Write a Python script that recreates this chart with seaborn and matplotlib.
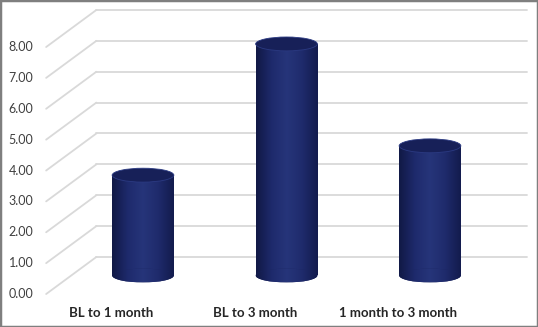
import matplotlib
matplotlib.use("Agg")
import matplotlib.pyplot as plt
from matplotlib.patches import Ellipse, Rectangle
from matplotlib.colors import LinearSegmentedColormap
import numpy as np
import seaborn as sns

# --- data
categories = ["BL to 1 month", "BL to 3 month", "1 month to 3 month"]
values = [3.25, 7.5, 4.2]
yticks = [0, 1, 2, 3, 4, 5, 6, 7, 8]

sns.set_theme(style="white")
plt.rcParams["font.family"] = ["Lato", "DejaVu Sans"]

W, H = 538, 327
fig = plt.figure(figsize=(W / 100, H / 100), dpi=100)
fig.patch.set_facecolor("white")

# axes for the cylinders (mid depth of the fake 3d box), y from -0.5 to 8
ppu = 30.875
ax = fig.add_axes([71.25 / W, (H - 275.5 - 0.5 * ppu) / H, 430.5 / W,
                   8.5 * ppu / H])
ax.set_axis_off()

# depth of the 3d box in data units (half depth each way)
depth_x = 0.175
depth_y = 0.6
grid_col = "#d9d9d9"

sns.barplot(x=categories, y=values, color="#1c2763", width=0.43,
            saturation=1, linewidth=0, edgecolor="none", ax=ax, zorder=3)

# back wall + left wall gridlines, front labels
for v in yticks:
    ax.plot([-0.5 + depth_x, 2.5 + depth_x], [v + depth_y, v + depth_y],
            color=grid_col, lw=1.3, clip_on=False, zorder=1)
    ax.plot([-0.5 - depth_x, -0.5 + depth_x], [v - depth_y, v + depth_y],
            color=grid_col, lw=1.3, clip_on=False, zorder=1)
    ax.text(-0.5 - depth_x - 0.09, v - depth_y, f"{v:.2f}", ha="right",
            va="center", fontsize=9, color="#404040")

for i, cat in enumerate(categories):
    ax.text(i - 0.22, -1.21, cat, ha="center", va="center", fontsize=9.5,
            fontweight="bold", color="#262626")

# cylinder shading
cyl_cmap = LinearSegmentedColormap.from_list(
    "cyl", ["#111946", "#1e2a6c", "#26357a", "#1f2b6c", "#131b4e"])
grad = np.linspace(0, 1, 64).reshape(1, -1)
eh = 0.45
for p in list(ax.patches):
    x0, w, h = p.get_x(), p.get_width(), p.get_height()
    xc = x0 + w / 2
    im = ax.imshow(grad, extent=[x0, x0 + w, 0, h], aspect="auto",
                   cmap=cyl_cmap, zorder=3.1)
    im.set_clip_path(p)
    # bottom ellipse drawn over the body so no seam shows
    bottom = Ellipse((xc, 0), w, eh, facecolor="#1c2763", edgecolor="none",
                     zorder=3.15)
    ax.add_patch(bottom)
    im2 = ax.imshow(grad, extent=[x0, x0 + w, -eh / 2, eh / 2], aspect="auto",
                    cmap=cyl_cmap, zorder=3.2)
    im2.set_clip_path(bottom)
    top = Ellipse((xc, h), w, eh, facecolor="#172058", edgecolor="#2b3a82",
                  lw=0.6, zorder=4)
    ax.add_patch(top)

ax.set_xlim(-0.5, 2.5)
ax.set_ylim(-0.5, 8)

# grey frame round the picture
fig.add_artist(Rectangle((0, 0), 1, 1, transform=fig.transFigure, fill=False,
                         edgecolor="#7f7f7f", lw=2.5))

fig.savefig("out.png", dpi=100)
